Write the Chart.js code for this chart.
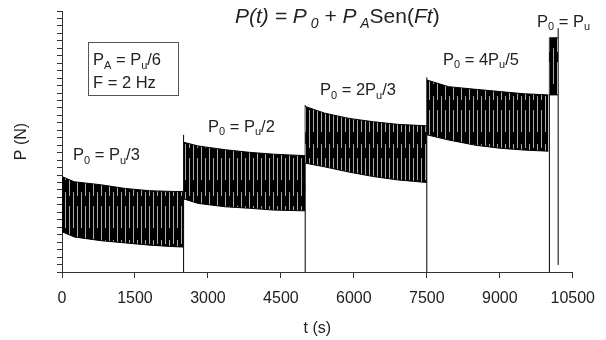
<!DOCTYPE html>
<html><head><meta charset="utf-8">
<script src="https://cdn.jsdelivr.net/npm/chart.js@4/dist/chart.umd.min.js"></script>
<style>html,body{margin:0;padding:0;background:#fff;}#wrap{width:606px;height:340px;position:relative;}</style>
</head><body><div id="wrap"><canvas id="c" width="606" height="340"></canvas></div>
<script>
// ---- data (t in s, P in arbitrary axis units; y axis has no labels) ----
const xTickLabels = [0, 1500, 3000, 4500, 6000, 7500, 9000, 10500];

const seg1T  = [0, 250, 800, 1300, 1800, 2300, 2500];
const seg1Up = [12.8, 12.1, 11.7, 11.2, 10.9, 10.8, 10.8];
const seg1Lo = [5.4, 4.7, 4.2, 3.9, 3.6, 3.4, 3.35];

const seg2T  = [2500, 2800, 3350, 3850, 4350, 5000];
const seg2Up = [17.4, 16.9, 16.4, 16.05, 15.8, 15.6];
const seg2Lo = [9.8, 9.2, 8.75, 8.55, 8.3, 8.2];

const seg3T  = [5000, 5400, 5900, 6400, 6900, 7500];
const seg3Up = [22.2, 21.3, 20.6, 20.15, 19.8, 19.6];
const seg3Lo = [14.6, 14.1, 13.4, 12.8, 12.35, 12.0];

const seg4T  = [7500, 7950, 8500, 9000, 9500, 10000];
const seg4Up = [25.75, 24.85, 24.5, 24.2, 23.9, 23.75];
const seg4Lo = [18.4, 17.7, 17.0, 16.6, 16.35, 16.2];

const seg5T  = [10020, 10200];
const seg5Up = [31.4, 31.4];
const seg5Lo = [23.75, 23.75];

const rampT   = [2500, 5000, 7500, 10020];
const rampTop = [18.4, 22.4, 26.1, 31.4];

const breakT = [10200, 10200];
const breakP = [0.95, 32.7];

// text pieces: [text, style]  style: '' normal, 'i' italic, 's' subscript
const titleText = [['P(t) = P','i'],[' 0','is'],[' + P','i'],[' A','is'],['Sen(',''],['Ft','i'],[')','']];
const boxLines = [
  [['P',''],['A','s'],[' = P',''],['u','s'],['/6','']],
  [['F = 2 Hz','']]
];
const stageLabels = [
  [['P',''],['0','s'],[' = P',''],['u','s'],['/3','']],
  [['P',''],['0','s'],[' = P',''],['u','s'],['/2','']],
  [['P',''],['0','s'],[' = 2P',''],['u','s'],['/3','']],
  [['P',''],['0','s'],[' = 4P',''],['u','s'],['/5','']],
  [['P',''],['0','s'],[' = P',''],['u','s']]
];

// ---- styling helpers ----
function makePattern() {
  const c = document.createElement('canvas');
  c.width = 8; c.height = 48;
  const g = c.getContext('2d');
  g.fillStyle = '#000'; g.fillRect(0, 0, 8, 48);
  g.fillStyle = '#ababab';
  g.fillRect(1, 0, 1, 36);
  g.fillRect(5, 14, 1, 34);
  g.fillRect(5, 0, 1, 4);
  return document.getElementById('c').getContext('2d').createPattern(c, 'repeat');
}
const pattern = makePattern();
const pts = (T, V) => T.map((t, i) => ({x: t, y: V[i]}));
const segs = [[seg1T, seg1Up, seg1Lo],[seg2T, seg2Up, seg2Lo],[seg3T, seg3Up, seg3Lo],[seg4T, seg4Up, seg4Lo],[seg5T, seg5Up, seg5Lo]];
const datasets = [];
segs.forEach(([T, U, L]) => {
  datasets.push({data: pts(T, U), borderColor: '#000', borderWidth: 1, pointRadius: 0, fill: false, tension: 0});
  datasets.push({data: pts(T, L), borderColor: '#000', borderWidth: 1, pointRadius: 0, fill: '-1', backgroundColor: pattern, tension: 0});
});
datasets.push({
  data: rampT.flatMap((t, i) => [{x: t, y: 0}, {x: t, y: rampTop[i]}, {x: t, y: null}]),
  borderColor: '#000', borderWidth: 1, pointRadius: 0, fill: false, spanGaps: false
});
datasets.push({data: pts(breakT, breakP), borderColor: '#000', borderWidth: 1, pointRadius: 0, fill: false});

const FONT = '"Liberation Sans", Arial, sans-serif';
function rich(ctx, x, y, parts, size) {
  for (const [t, st] of parts) {
    const sub = st.includes('s'), it = st.includes('i');
    const fs = sub ? Math.round(size * 0.68) : size;
    ctx.font = (it ? 'italic ' : '') + fs + 'px ' + FONT;
    ctx.fillText(t, x, y + (sub ? size * 0.22 : 0));
    x += ctx.measureText(t).width;
  }
}
const annot = {
  id: 'annot',
  afterDraw(chart) {
    const ctx = chart.ctx;
    ctx.save();
    ctx.fillStyle = '#222';
    ctx.textBaseline = 'alphabetic';
    ctx.textAlign = 'left';
    rich(ctx, 235, 23, titleText, 21);
    ctx.strokeStyle = '#555'; ctx.lineWidth = 1;
    ctx.strokeRect(88.5, 42.5, 90, 53);
    rich(ctx, 93, 65, boxLines[0], 16.5);
    rich(ctx, 93, 88, boxLines[1], 16.5);
    const pos = [[73, 160], [208, 131.5], [320, 95], [443, 64.5], [537, 26.5]];
    stageLabels.forEach((p, i) => rich(ctx, pos[i][0], pos[i][1], p, 16.5));
    ctx.restore();
  }
};

new Chart(document.getElementById('c'), {
  type: 'line',
  data: {datasets},
  plugins: [annot],
  options: {
    responsive: false, animation: false, devicePixelRatio: 1,
    layout: {padding: {top: 11, right: 30, left: 0, bottom: 0}},
    plugins: {legend: {display: false}, tooltip: {enabled: false}},
    scales: {
      x: {
        type: 'linear', min: 0, max: 10500,
        afterBuildTicks: s => { s.ticks = xTickLabels.map(v => ({value: v})); },
        ticks: {autoSkip: false, maxRotation: 0, padding: 11, color: '#222',
                font: {family: FONT, size: 16}, callback: v => String(v)},
        grid: {drawOnChartArea: false, tickLength: 6, tickColor: '#333'},
        border: {color: '#333', width: 1},
        title: {display: true, text: 't (s)', color: '#222', font: {family: FONT, size: 16}, padding: {top: 0, bottom: 2}},
        afterFit: s => { s.height = 68; }
      },
      y: {
        min: 0, max: 35,
        ticks: {stepSize: 1, autoSkip: false, callback: () => ''},
        grid: {drawOnChartArea: false, tickLength: 5, tickColor: '#333'},
        border: {color: '#333', width: 1},
        title: {display: true, text: 'P (N)', color: '#222', font: {family: FONT, size: 16}, padding: {top: 12, bottom: 0}},
        afterFit: s => { s.width = 62; }
      }
    }
  }
});
</script></body></html>
